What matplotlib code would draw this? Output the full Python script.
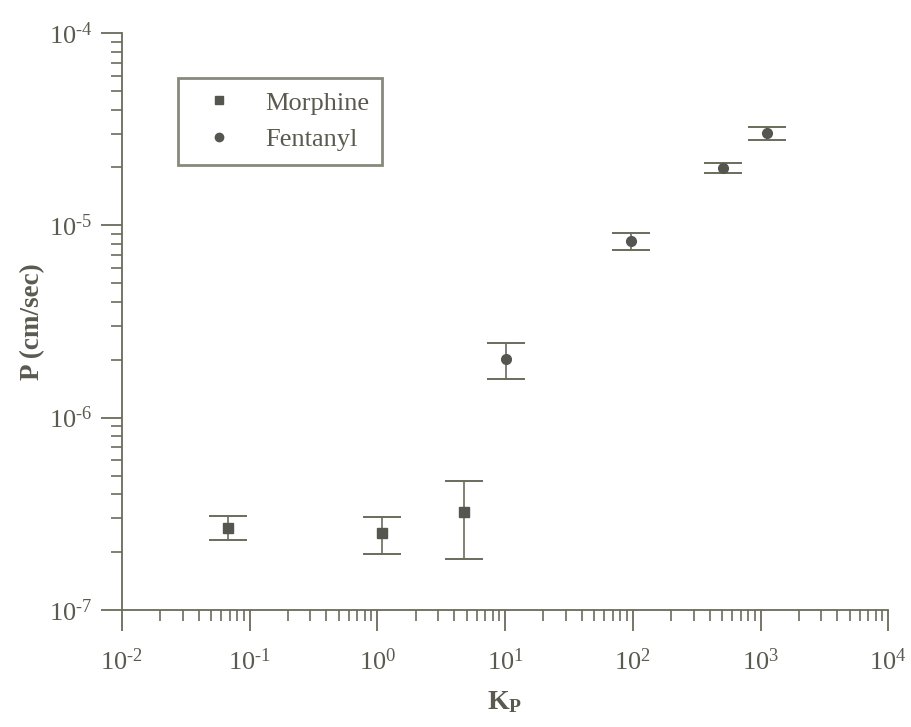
import numpy as np
import matplotlib.pyplot as plt
from matplotlib.lines import Line2D
from matplotlib.ticker import FixedLocator, NullFormatter, FuncFormatter

plt.rcParams['font.family'] = ['Liberation Serif', 'DejaVu Serif']
plt.rcParams['mathtext.fontset'] = 'custom'
plt.rcParams['mathtext.rm'] = 'Liberation Serif'
plt.rcParams['mathtext.it'] = 'Liberation Serif'
plt.rcParams['mathtext.bf'] = 'Liberation Serif:bold'

# --- data ---
morphine_kp = [0.068, 1.09, 4.8]
morphine_p = [2.68e-7, 2.51e-7, 3.24e-7]
morphine_hi = [3.07e-7, 3.04e-7, 4.68e-7]
morphine_lo = [2.31e-7, 1.95e-7, 1.83e-7]

fentanyl_kp = [10.1, 96, 505, 1124]
fentanyl_p = [2.02e-6, 8.28e-6, 1.98e-5, 3.01e-5]
fentanyl_hi = [2.45e-6, 9.16e-6, 2.10e-5, 3.24e-5]
fentanyl_lo = [1.58e-6, 7.45e-6, 1.88e-5, 2.78e-5]

x_decades = [-2, -1, 0, 1, 2, 3, 4]
y_decades = [-7, -6, -5, -4]

line_col = '#6b6b5c'
mark_col = '#565650'
text_col = '#5a5a4e'

fig = plt.figure(figsize=(9.12, 7.27), dpi=100)
ax = fig.add_axes([0.1335, 0.161, 0.8405, 0.7936])


def err(p, hi, lo):
    p = np.array(p)
    return [p - np.array(lo), np.array(hi) - p]


ax.errorbar(morphine_kp, morphine_p, yerr=err(morphine_p, morphine_hi, morphine_lo),
            fmt='s', ms=7, color=mark_col, ecolor=line_col, elinewidth=1.2,
            capsize=14, capthick=1.4)
ax.errorbar(fentanyl_kp, fentanyl_p, yerr=err(fentanyl_p, fentanyl_hi, fentanyl_lo),
            fmt='o', ms=7, color=mark_col, ecolor=line_col, elinewidth=1.2,
            capsize=14, capthick=1.4)

ax.set_xscale('log')
ax.set_yscale('log')
ax.set_xlim(10.0 ** x_decades[0], 10.0 ** x_decades[-1])
ax.set_ylim(10.0 ** y_decades[0], 10.0 ** y_decades[-1])

for s in ['top', 'right']:
    ax.spines[s].set_visible(False)
for s in ['left', 'bottom']:
    ax.spines[s].set_color(line_col)
    ax.spines[s].set_linewidth(1.3)


def minors(decs):
    return [m * 10.0 ** d for d in decs[:-1] for m in range(2, 10)]


# scanned labels use a short hyphen in the exponent, not a minus sign
pow_fmt = FuncFormatter(lambda v, pos: r'10$^{\text{%d}}$' % round(np.log10(v)))
for axis, decs in [(ax.xaxis, x_decades), (ax.yaxis, y_decades)]:
    axis.set_major_locator(FixedLocator([10.0 ** d for d in decs]))
    axis.set_minor_locator(FixedLocator(minors(decs)))
    axis.set_major_formatter(pow_fmt)
    axis.set_minor_formatter(NullFormatter())

ax.tick_params(which='major', direction='out', length=15, width=1.3,
               color=line_col, labelcolor=text_col, labelsize=19)
ax.tick_params(which='minor', direction='out', length=8, width=1.2, color=line_col)
ax.tick_params(axis='x', which='major', pad=13)
ax.tick_params(axis='y', which='major', pad=6)

ax.set_xlabel(r'$\mathbf{K_P}$', fontsize=20, color=text_col, labelpad=10)
ax.set_ylabel('P (cm/sec)', fontsize=19.5, fontweight='bold', color=text_col, labelpad=3)

handles = [Line2D([], [], ls='none', marker='s', ms=6, color=mark_col),
           Line2D([], [], ls='none', marker='o', ms=6, color=mark_col)]
leg = ax.legend(handles, ['Morphine', 'Fentanyl'], loc='upper left',
                bbox_to_anchor=(0.0735, 0.922), fontsize=19, frameon=True,
                fancybox=False, handletextpad=0.7, borderpad=0.5,
                labelspacing=0.5, handlelength=2.1, borderaxespad=0)
leg.get_frame().set_edgecolor(line_col)
leg.get_frame().set_linewidth(2)
for t in leg.get_texts():
    t.set_color(text_col)

fig.savefig('out.png', dpi=100)
